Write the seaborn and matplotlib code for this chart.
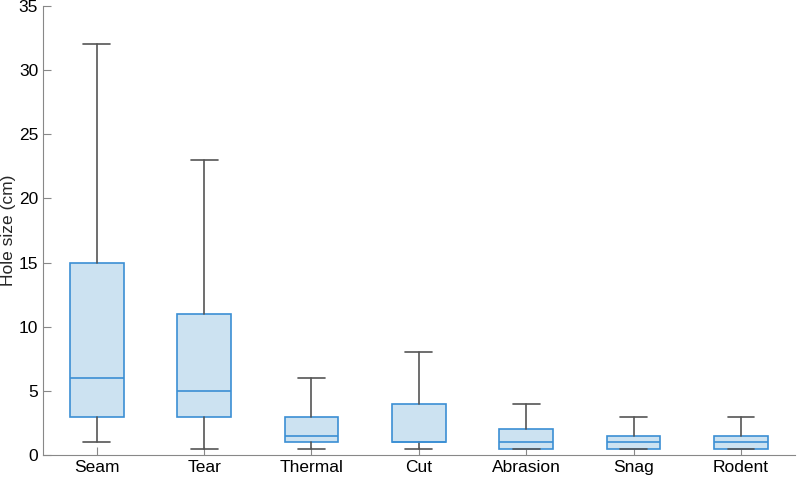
import seaborn as sns
import matplotlib.pyplot as plt

categories = ["Seam", "Tear", "Thermal", "Cut", "Abrasion", "Snag", "Rodent"]
whisker_low = [1, 0.5, 0.5, 0.5, 0.5, 0.5, 0.5]
q1 = [3, 3, 1, 1, 0.5, 0.5, 0.5]
median = [6, 5, 1.5, 1, 1, 1, 1]
q3 = [15, 11, 3, 4, 2, 1.5, 1.5]
whisker_high = [32, 23, 6, 8, 4, 3, 3]

sns.set_style("ticks")
plt.rcParams['font.family'] = ['Liberation Sans', 'DejaVu Sans']

stats = [
    dict(label=c, whislo=lo, q1=a, med=m, q3=b, whishi=hi, fliers=[])
    for c, lo, a, m, b, hi in zip(categories, whisker_low, q1, median, q3, whisker_high)
]

fig = plt.figure(figsize=(7.97, 4.79), dpi=100)
ax = fig.add_axes([0.054, 0.05, 0.943, 0.9375])

edge = "#3b8fd4"
fill = "#cce2f1"
grey = "#555555"
ax.bxp(stats, positions=range(len(categories)), widths=0.5, patch_artist=True,
       showfliers=False,
       boxprops=dict(facecolor=fill, edgecolor=edge, linewidth=1.2),
       medianprops=dict(color=edge, linewidth=1.2),
       whiskerprops=dict(color=grey, linewidth=1.2),
       capprops=dict(color=grey, linewidth=1.2),
       capwidths=0.25)

ax.set_xlim(-0.5, len(categories) - 0.5)
ax.set_ylim(0, 35)
ax.set_yticks(range(0, 36, 5))
ax.set_xticks(range(len(categories)))
ax.set_xticklabels(categories)
ax.set_ylabel("Hole size (cm)", fontsize=12.5, labelpad=2)
ax.tick_params(direction="in", length=6, colors="#888888", labelcolor="black", labelsize=12.5)
for side in ["left", "bottom"]:
    ax.spines[side].set_color("#888888")
sns.despine(ax=ax)

fig.savefig("out.png", dpi=100)
